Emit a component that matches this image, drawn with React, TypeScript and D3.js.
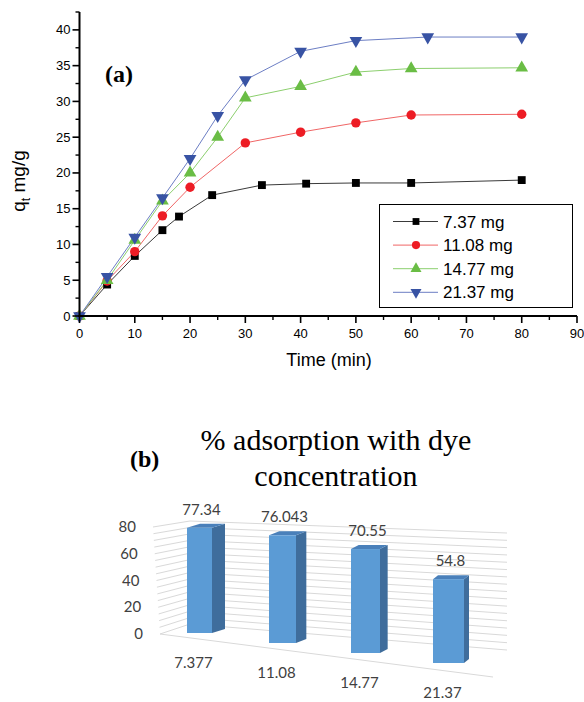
import * as d3 from 'd3';

const W = 584;
const H = 702;

// ---- panel (a): kinetics ----
const seriesNames = ['7.37 mg', '11.08 mg', '14.77 mg', '21.37 mg'];
const markerColors = ['#000000', '#ed1c24', '#6abd45', '#3853a4'];
const lineColors = ['#3a3a3a', '#f06666', '#8ccf6e', '#6c7ec4'];

const timeBlack = [0, 5, 10, 15, 18, 24, 33, 41, 50, 60, 80];
const qBlack = [0, 4.4, 8.4, 12, 13.9, 16.9, 18.3, 18.5, 18.6, 18.6, 19.0];
const timeRed = [0, 5, 10, 15, 20, 30, 40, 50, 60, 80];
const qRed = [0, 4.9, 9.0, 14, 18, 24.2, 25.7, 27, 28.1, 28.2];
const timeGreen = [0, 5, 10, 15, 20, 25, 30, 40, 50, 60, 80];
const qGreen = [0, 5, 10.6, 16.1, 20, 25, 30.5, 32.1, 34.1, 34.6, 34.7];
const timeBlue = [0, 5, 10, 15, 20, 25, 30, 40, 50, 63, 80];
const qBlue = [0, 5.5, 11, 16.5, 22, 28, 33, 37, 38.5, 39, 39];

const xTicksA = [0, 10, 20, 30, 40, 50, 60, 70, 80, 90];
const yTicksA = [0, 5, 10, 15, 20, 25, 30, 35, 40];

// ---- panel (b): % adsorption ----
const concLabels = ['7.377', '11.08', '14.77', '21.37'];
const adsorption = [77.34, 76.043, 70.55, 54.8];
const yTicksB = [0, 20, 40, 60, 80];

const SANS = '"Liberation Sans", Arial, sans-serif';
const SERIF = '"Liberation Serif", "Times New Roman", serif';
const CAL = 'Lato, "Open Sans", sans-serif';

export default function App() {
  // ---------- (a) ----------
  const x = d3.scaleLinear().domain([0, 90]).range([79.5, 577]);
  const y = d3.scaleLinear().domain([0, 42.5]).range([316, 12]);

  const series = [
    { t: timeBlack, q: qBlack },
    { t: timeRed, q: qRed },
    { t: timeGreen, q: qGreen },
    { t: timeBlue, q: qBlue },
  ];
  const symbols = [d3.symbolSquare, d3.symbolCircle, d3.symbolTriangle, d3.symbolTriangle];
  const rotations = [0, 0, 0, 180];
  const sizes = [62, 70, 70, 70];

  const line = d3
    .line<[number, number]>()
    .x((d) => x(d[0]))
    .y((d) => y(d[1]));

  const minorX = d3.range(5, 90, 10);
  const minorY = d3.range(2.5, 42.6, 5);

  // ---------- (b) ----------
  const idx = d3.scaleLinear().domain([0, concLabels.length - 1]);
  const barLeft = idx.copy().range([187, 433]);
  const barBase = idx.copy().range([633, 663]);
  const barK = idx.copy().range([1.36, 1.53]);
  const barW = idx.copy().range([25, 31]);
  const barDx = idx.copy().range([13, 5]);
  const barDy = 4;

  // wall edges: value -> position
  const flX = d3.scaleLinear().domain([0, 80]).range([160, 153]);
  const flY = d3.scaleLinear().domain([0, 80]).range([634, 527]);
  const blX = 190;
  const blY = d3.scaleLinear().domain([0, 80]).range([624, 521]);
  const brX = 507;
  const brY = d3.scaleLinear().domain([0, 80]).range([650, 533]);
  const grid = d3.range(0, 81, 5);

  return (
    <svg
      width={W}
      height={H}
      viewBox={`0 0 ${W} ${H}`}
      style={{ position: 'absolute', left: 0, top: 0, background: '#fff' }}
    >
      {/* ===== panel (a) ===== */}
      {series.map((s, i) => (
        <path
          key={'l' + i}
          d={line(s.t.map((t, j) => [t, s.q[j]] as [number, number])) || ''}
          fill="none"
          stroke={lineColors[i]}
          strokeWidth={1}
        />
      ))}
      {series.map((s, i) =>
        s.t.map((t, j) => (
          <path
            key={'m' + i + '-' + j}
            d={d3.symbol(symbols[i], sizes[i])() || ''}
            transform={`translate(${x(t)},${y(s.q[j])}) rotate(${rotations[i]})`}
            fill={markerColors[i]}
          />
        ))
      )}

      {/* axes */}
      <line x1={x(0)} x2={x(0)} y1={y(0) + 1} y2={y(42.5)} stroke="#000" strokeWidth={2} />
      <line x1={x(0) - 1} x2={x(90)} y1={y(0)} y2={y(0)} stroke="#000" strokeWidth={2} />
      {yTicksA.map((v) => (
        <g key={'yt' + v}>
          <line x1={x(0) - 7} x2={x(0)} y1={y(v)} y2={y(v)} stroke="#000" strokeWidth={1.6} />
          <text x={x(0) - 9} y={y(v) + 4.5} textAnchor="end" fontFamily={SANS} fontSize={13}>
            {v}
          </text>
        </g>
      ))}
      {minorY.map((v) => (
        <line key={'ym' + v} x1={x(0) - 4} x2={x(0)} y1={y(v)} y2={y(v)} stroke="#000" strokeWidth={1.4} />
      ))}
      {xTicksA.map((v) => (
        <g key={'xt' + v}>
          <line x1={x(v)} x2={x(v)} y1={y(0)} y2={y(0) + 7} stroke="#000" strokeWidth={1.6} />
          <text x={x(v)} y={338} textAnchor="middle" fontFamily={SANS} fontSize={13}>
            {v}
          </text>
        </g>
      ))}
      {minorX.map((v) => (
        <line key={'xm' + v} x1={x(v)} x2={x(v)} y1={y(0)} y2={y(0) + 4} stroke="#000" strokeWidth={1.4} />
      ))}

      <text x={329} y={366} textAnchor="middle" fontFamily={SANS} fontSize={18}>
        Time (min)
      </text>
      <text
        transform="translate(25,181) rotate(-90)"
        textAnchor="middle"
        fontFamily={SANS}
        fontSize={19}
      >
        q<tspan fontSize={12} dy={5}>t</tspan>
        <tspan dy={-5}> mg/g</tspan>
      </text>
      <text x={105} y={82} fontFamily={SERIF} fontWeight="bold" fontSize={24}>
        (a)
      </text>

      {/* legend */}
      <rect x={379.5} y={204.5} width={193} height={103} fill="#fff" stroke="#000" strokeWidth={1} />
      {seriesNames.map((n, i) => {
        const ly = 221.5 + i * 23.6;
        return (
          <g key={'lg' + i}>
            <line x1={393} x2={438} y1={ly} y2={ly} stroke={lineColors[i]} strokeWidth={1} />
            <path
              d={d3.symbol(symbols[i], sizes[i] * 0.75)() || ''}
              transform={`translate(416,${ly}) rotate(${rotations[i]})`}
              fill={markerColors[i]}
            />
            <text x={443} y={ly + 6} fontFamily={SANS} fontSize={17}>
              {n}
            </text>
          </g>
        );
      })}

      {/* ===== panel (b) ===== */}
      <text x={130} y={467} fontFamily={SERIF} fontWeight="bold" fontSize={24}>
        (b)
      </text>
      <text x={336} y={450} textAnchor="middle" fontFamily={SERIF} fontSize={30}>
        % adsorption with dye
      </text>
      <text x={336} y={486} textAnchor="middle" fontFamily={SERIF} fontSize={30}>
        concentration
      </text>

      {/* walls */}
      {grid.map((v) => (
        <polyline
          key={'g' + v}
          points={`${flX(v)},${flY(v)} ${blX},${blY(v)} ${brX},${brY(v)}`}
          fill="none"
          stroke="#d9d9d9"
          strokeWidth={1}
        />
      ))}
      <line x1={flX(0)} y1={flY(0)} x2={493} y2={677} stroke="#d9d9d9" strokeWidth={1} />
      {yTicksB.map((v) => (
        <text
          key={'by' + v}
          x={flX(v) - 17}
          y={flY(v) + 5}
          textAnchor="end"
          fontFamily={CAL}
          fontSize={15}
          fill="#404040"
        >
          {v}
        </text>
      ))}

      {/* bars */}
      {adsorption.map((v, i) => {
        const x0 = barLeft(i);
        const w = barW(i);
        const yb = barBase(i);
        const yt = yb - v * barK(i);
        const dx = barDx(i);
        return (
          <g key={'b' + i}>
            <polygon
              points={`${x0 + w},${yt} ${x0 + w + dx},${yt - barDy} ${x0 + w + dx},${yb - barDy} ${x0 + w},${yb}`}
              fill="#3f6d9c"
            />
            <polygon
              points={`${x0},${yt} ${x0 + w},${yt} ${x0 + w + dx},${yt - barDy} ${x0 + dx},${yt - barDy}`}
              fill="#4a80ba"
            />
            <rect x={x0} y={yt} width={w} height={yb - yt} fill="#5b9bd5" />
            <text
              x={x0 + w / 2 + 2}
              y={yt - 13}
              textAnchor="middle"
              fontFamily={CAL}
              fontSize={15}
              fill="#404040"
            >
              {v}
            </text>
            <text
              x={x0 + w / 2 - 6}
              y={yb + 35}
              textAnchor="middle"
              fontFamily={CAL}
              fontSize={15}
              fill="#404040"
            >
              {concLabels[i]}
            </text>
          </g>
        );
      })}
    </svg>
  );
}
